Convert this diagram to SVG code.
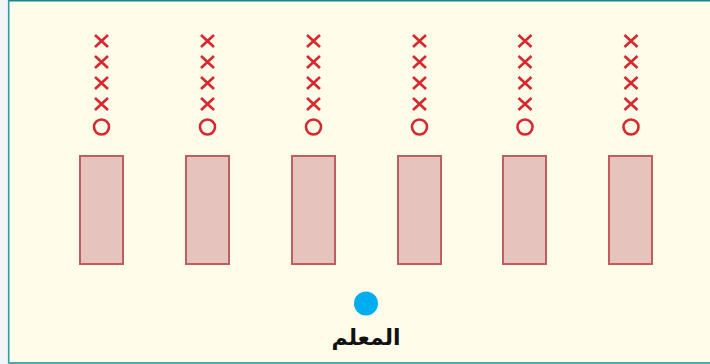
<svg xmlns="http://www.w3.org/2000/svg" width="710" height="364" viewBox="0 0 710 364">
<style>
.desk{fill:#e6c3bc;stroke:#c05e5e;stroke-width:2}
.x{stroke:#d9272e;stroke-width:2.6;fill:none}
.o{stroke:#d9272e;stroke-width:2.6;fill:none}
.lbl{font-family:"DejaVu Sans","Noto Sans",sans-serif;font-weight:bold;font-size:22px;fill:#111}
</style>
<defs>
<g id="xm"><path class="x" d="M-6.5,-6 L6.5,6 M-6.5,6 L6.5,-6"/></g>
<g id="col">
<use href="#xm" y="41"/>
<use href="#xm" y="62"/>
<use href="#xm" y="83"/>
<use href="#xm" y="104"/>
<circle class="o" cy="127" r="7.5"/>
</g>
</defs>
<rect x="0" y="0" width="710" height="364" fill="#f3f4f8"/>
<rect x="9" y="1" width="701" height="361" fill="#fffcea"/>
<line x1="9" y1="0.8" x2="710" y2="0.8" stroke="#14888a" stroke-width="1.6"/>
<line x1="8.7" y1="0" x2="8.7" y2="364" stroke="#2b9ea3" stroke-width="1.6"/>
<line x1="8" y1="363" x2="710" y2="363" stroke="#4aaab0" stroke-width="2"/>
<g id="seats">
<use href="#col" x="101.5"/>
<use href="#col" x="207.5"/>
<use href="#col" x="313.5"/>
<use href="#col" x="419.5"/>
<use href="#col" x="525"/>
<use href="#col" x="631"/>
</g>
<g id="desk1"><rect class="desk" x="80" y="156" width="43" height="108"/></g>
<g id="desk2"><rect class="desk" x="186" y="156" width="43" height="108"/></g>
<g id="desk3"><rect class="desk" x="292" y="156" width="43" height="108"/></g>
<g id="desk4"><rect class="desk" x="398" y="156" width="43" height="108"/></g>
<g id="desk5"><rect class="desk" x="503" y="156" width="43" height="108"/></g>
<g id="desk6"><rect class="desk" x="609" y="156" width="43" height="108"/></g>
<g id="teacher">
<circle cx="366" cy="303.5" r="12" fill="#00aeef"/>
<text class="lbl" x="366" y="345" text-anchor="middle" direction="rtl">المعلم</text>
</g>
<g id="connectors"/>
</svg>
